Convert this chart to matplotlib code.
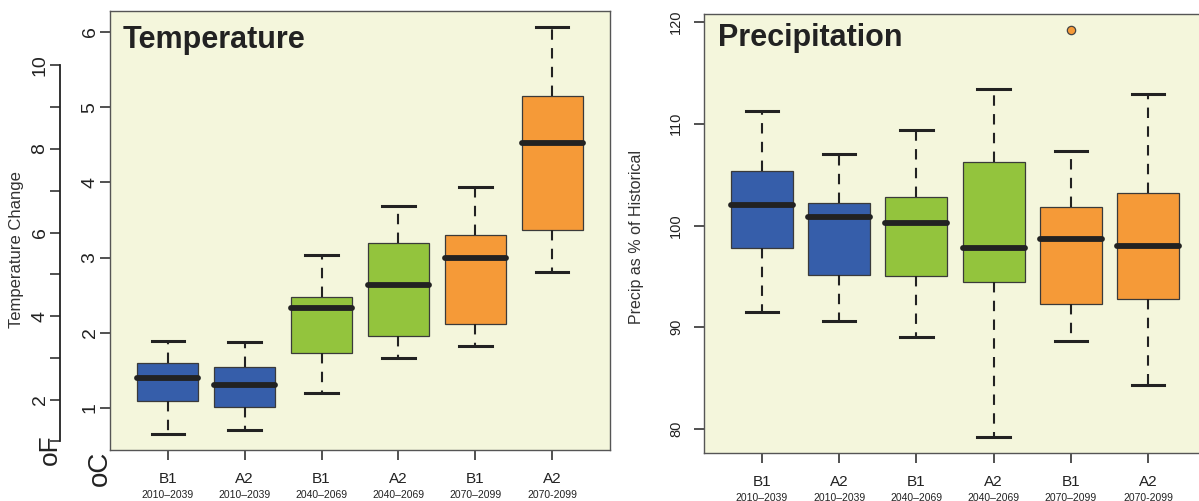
import matplotlib

matplotlib.use("Agg")
import matplotlib.pyplot as plt

plt.rcParams["font.family"] = ["Liberation Sans", "DejaVu Sans"]

# ---- data ------------------------------------------------------------------
scenarios = ["B1", "A2", "B1", "A2", "B1", "A2"]
periods = ["2010\u20132039", "2010\u20132039", "2040\u20132069",
           "2040\u20132069", "2070\u20132099", "2070-2099"]

# temperature change, deg C
temp_whislo = [0.65, 0.70, 1.20, 1.67, 1.83, 2.81]
temp_q1 = [1.09, 1.01, 1.73, 1.96, 2.12, 3.37]
temp_med = [1.40, 1.31, 2.33, 2.64, 3.00, 4.53]
temp_q3 = [1.60, 1.54, 2.48, 3.20, 3.30, 5.15]
temp_whishi = [1.89, 1.88, 3.03, 3.69, 3.94, 6.07]

# precipitation, % of historical
precip_whislo = [91.5, 90.6, 89.0, 79.2, 88.6, 84.3]
precip_q1 = [97.8, 95.1, 95.0, 94.4, 92.3, 92.8]
precip_med = [102.0, 100.8, 100.2, 97.8, 98.7, 98.0]
precip_q3 = [105.4, 102.2, 102.8, 106.2, 101.8, 103.2]
precip_whishi = [111.3, 107.0, 109.4, 113.4, 107.3, 112.9]
precip_fliers = [[], [], [], [], [119.2], []]

# ---- styling -----------------------------------------------------------------
BLUE, GREEN, ORANGE = "#365EAA", "#93C43D", "#F59A38"
box_colors = [BLUE, BLUE, GREEN, GREEN, ORANGE, ORANGE]
BG = "#F4F6DC"
INK = "#222222"
PX = 72 / 100  # points per pixel at dpi=100


def make_stats(lo, q1, med, q3, hi, fliers=None):
    out = []
    for i in range(len(med)):
        out.append(dict(whislo=lo[i], q1=q1[i], med=med[i], q3=q3[i],
                        whishi=hi[i], fliers=(fliers[i] if fliers else [])))
    return out


def draw_boxes(ax, stats):
    bp = ax.bxp(
        stats, positions=range(1, 7), widths=0.8, capwidths=0.42,
        patch_artist=True, showfliers=True,
        boxprops=dict(edgecolor="#3a3a3a", linewidth=0.9),
        whiskerprops=dict(color=INK, linewidth=1.5, linestyle=(0, (5, 4))),
        capprops=dict(color=INK, linewidth=2.2),
        medianprops=dict(color=INK, linewidth=4.2, solid_capstyle="round"),
        flierprops=dict(marker="o", markerfacecolor=ORANGE,
                        markeredgecolor="#444444", markersize=6,
                        markeredgewidth=0.9),
    )
    for patch, c in zip(bp["boxes"], box_colors):
        patch.set_facecolor(c)
    for med in bp["medians"]:
        med.set_zorder(4)
    return bp


def style_axes(ax, ylim):
    ax.set_facecolor(BG)
    ax.set_xlim(0.25, 6.75)
    ax.set_ylim(*ylim)
    for sp in ax.spines.values():
        sp.set_color("#555555")
        sp.set_linewidth(1.0)
    ax.set_xticks(range(1, 7))
    ax.set_xticklabels([])
    ax.tick_params(axis="both", length=10 * PX, width=1.1, color=INK,
                   labelcolor=INK)
    for i, (s, p) in enumerate(zip(scenarios, periods), start=1):
        ax.annotate(s, xy=(i, 0), xycoords=("data", "axes fraction"),
                    xytext=(0, -29 * PX), textcoords="offset points",
                    ha="center", va="center", fontsize=11, color=INK)
        ax.annotate(p, xy=(i, 0), xycoords=("data", "axes fraction"),
                    xytext=(0, -45 * PX), textcoords="offset points",
                    ha="center", va="center", fontsize=7.5, color=INK)


def rotate_ylabels(ax):
    for lab in ax.get_yticklabels():
        lab.set_rotation(90)
        lab.set_va("center")
        lab.set_ha("right")


W, H = 1199, 501
fig = plt.figure(figsize=(W / 100, H / 100), dpi=100)

# ---- left: temperature -------------------------------------------------------
rect_t = [110 / W, (H - 450) / H, 500 / W, 439 / H]
ax_t = fig.add_axes(rect_t)
draw_boxes(ax_t, make_stats(temp_whislo, temp_q1, temp_med, temp_q3,
                            temp_whishi))
style_axes(ax_t, (0.44, 6.28))
ax_t.set_yticks(range(1, 7))
ax_t.tick_params(axis="y", labelsize=14, pad=1)
rotate_ylabels(ax_t)
ax_t.text(0.026, 0.934, "Temperature", transform=ax_t.transAxes,
          fontsize=22, fontweight="bold", color=INK, ha="left", va="center")

# Fahrenheit scale drawn as a second, offset axis
ax_f = fig.add_axes(rect_t)
ax_f.patch.set_visible(False)
ax_f.set_ylim(0.44 * 1.8, 6.28 * 1.8)
for name in ("top", "right", "bottom"):
    ax_f.spines[name].set_visible(False)
ax_f.spines["left"].set_position(("outward", 50 * PX))
ax_f.spines["left"].set_bounds(1, 10)
ax_f.spines["left"].set_color(INK)
ax_f.spines["left"].set_linewidth(1.3)
ax_f.set_xticks([])
ax_f.set_yticks([2, 4, 6, 8, 10])
ax_f.set_yticks([1, 3, 5, 7, 9], minor=True)
ax_f.tick_params(axis="y", which="both", length=10 * PX, width=1.1,
                 color=INK, labelcolor=INK, labelsize=14, pad=1)
rotate_ylabels(ax_f)

fig.text(17 / W, 1 - 250 / H, "Temperature Change", rotation=90,
         ha="center", va="center", fontsize=12, color="#333333")
fig.text(50 / W, 1 - 450 / H, "oF", rotation=90, ha="center", va="center",
         fontsize=19, color=INK)
fig.text(100 / W, 1 - 468 / H, "oC", rotation=90, ha="center", va="center",
         fontsize=20, color=INK)

# ---- right: precipitation ----------------------------------------------------
ax_p = fig.add_axes([704 / W, (H - 453) / H, 502 / W, 439 / H])
draw_boxes(ax_p, make_stats(precip_whislo, precip_q1, precip_med, precip_q3,
                            precip_whishi, precip_fliers))
style_axes(ax_p, (77.64, 120.79))
ax_p.set_yticks([80, 90, 100, 110, 120])
ax_p.tick_params(axis="y", labelsize=10.5, pad=8)
rotate_ylabels(ax_p)
ax_p.text(0.028, 0.945, "Precipitation", transform=ax_p.transAxes,
          fontsize=22, fontweight="bold", color=INK, ha="left", va="center")
fig.text(636 / W, 1 - 237 / H, "Precip as % of Historical", rotation=90,
         ha="center", va="center", fontsize=11.5, color="#333333")

fig.savefig("out.png", dpi=100)
